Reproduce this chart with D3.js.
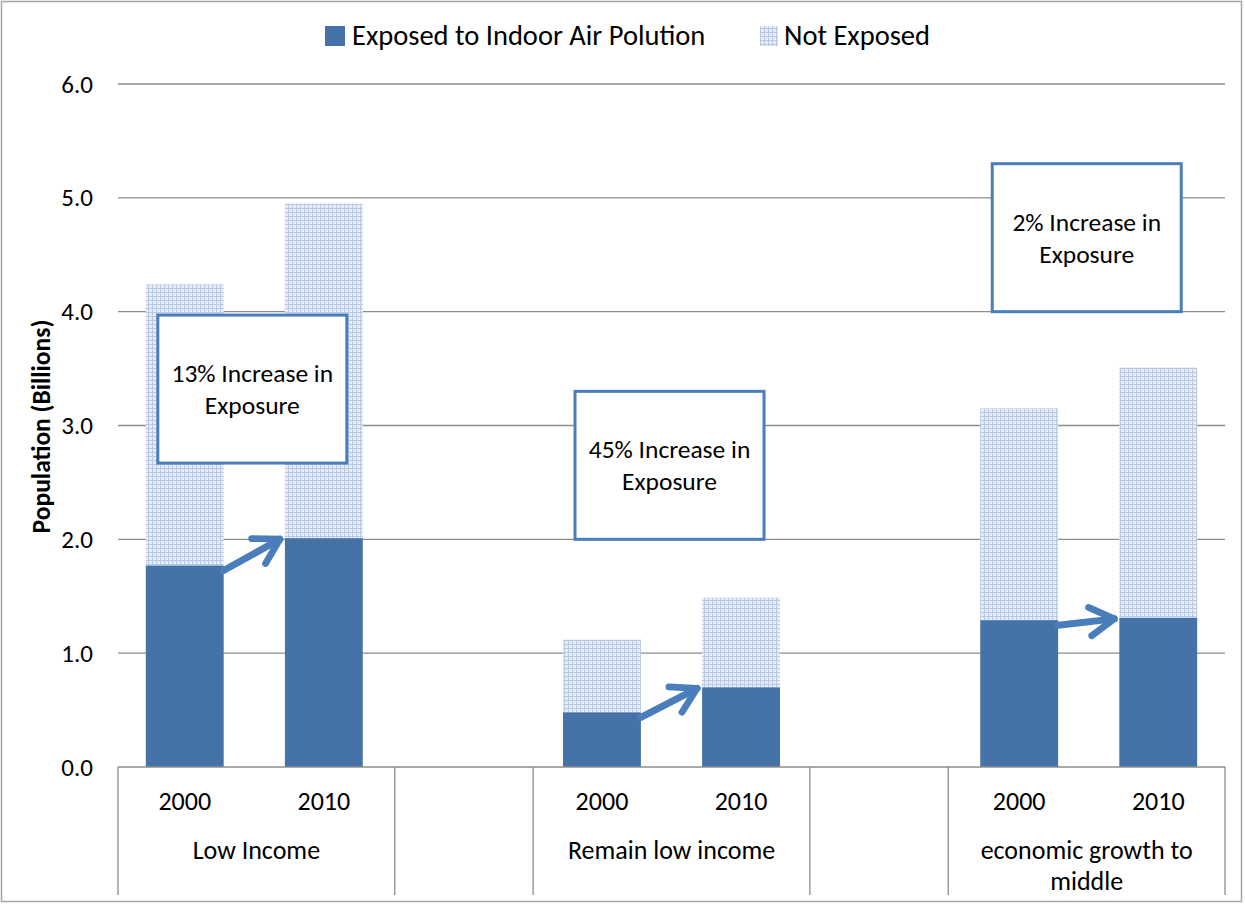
<!DOCTYPE html>
<html><head><meta charset="utf-8">
<script src="https://cdn.jsdelivr.net/npm/d3@7"></script>
<style>body{margin:0;background:#fff}svg{display:block}</style>
</head><body>
<svg id="c" width="1245" height="905"></svg>
<script>
const categories = ["LI2000","LI2010","gap1","RL2000","RL2010","gap2","EG2000","EG2010"];
const yearLabels = ["2000","2010","","2000","2010","","2000","2010"];
const groups = [
  {name:["Low Income"], from:0, to:1},
  {name:[""], from:2, to:2},
  {name:["Remain low income"], from:3, to:4},
  {name:[""], from:5, to:5},
  {name:["economic growth to","middle"], from:6, to:7}
];
const exposed =    [1.77, 2.01, null, 0.48, 0.70, null, 1.29, 1.31];
const notExposed = [2.47, 2.94, null, 0.64, 0.79, null, 1.86, 2.20];
const yTicks = [0,1,2,3,4,5,6];
const notes = [
  {text:["13% Increase in","Exposure"], cat:0, top:3.97, bottom:2.67},
  {text:["45% Increase in","Exposure"], cat:3, top:3.30, bottom:2.00},
  {text:["2% Increase in","Exposure"], cat:6, top:5.30, bottom:4.00}
];
const arrows = [[0,1],[3,4],[6,7]];

const svg = d3.select("#c");
const font = "Carlito, Calibri, 'Liberation Sans', sans-serif";
const L = 118, R = 1225, T = 84, B = 767;
const x = d3.scaleBand().domain(categories).range([L, R]).paddingInner(0.44).paddingOuter(0.2);
const step = (R - L) / categories.length;
const y = d3.scaleLinear().domain([0, 6]).range([B, T]);

// pattern
const defs = svg.append("defs");
const pat = defs.append("pattern").attr("id","grid").attr("patternUnits","userSpaceOnUse").attr("width",4).attr("height",4);
pat.append("rect").attr("width",4).attr("height",4).attr("fill","#e6ecf6");
pat.append("rect").attr("x",0).attr("y",0).attr("width",4).attr("height",1).attr("fill","#b9c9e3");
pat.append("rect").attr("x",0).attr("y",0).attr("width",1).attr("height",4).attr("fill","#b9c9e3");

// outer frame
svg.append("rect").attr("x",1.5).attr("y",1.5).attr("width",1240).attr("height",900).attr("fill","none").attr("stroke","#a6a6a6").attr("stroke-width",1.5);

// gridlines
svg.append("g").selectAll("line").data(yTicks.filter(d=>d>0)).join("line")
  .attr("x1",L).attr("x2",R).attr("y1",d=>y(d)).attr("y2",d=>y(d))
  .attr("stroke","#8c8c8c").attr("stroke-width",1.3);

// y axis
const yAxis = d3.axisLeft(y).tickValues(yTicks).tickFormat(d3.format(".1f")).tickSize(0).tickPadding(25);
const ya = svg.append("g").attr("transform",`translate(${L},0)`).call(yAxis);
ya.select(".domain").remove();
ya.selectAll("text").attr("font-family",font).attr("font-size",25).attr("fill","#000");

svg.append("text").attr("transform",`translate(50,${(T+B)/2+1}) rotate(-90)`)
  .attr("text-anchor","middle").attr("font-family",font).attr("font-size",25.5).attr("font-weight","bold")
  .text("Population (Billions)");

// bars
const data = categories.map((c,i)=>({c, e:exposed[i], n:notExposed[i]})).filter(d=>d.e!==null);
svg.append("g").selectAll("rect").data(data).join("rect")
  .attr("x",d=>x(d.c)).attr("width",x.bandwidth())
  .attr("y",d=>y(d.e+d.n)).attr("height",d=>y(d.e)-y(d.e+d.n)).attr("fill","url(#grid)");
svg.append("g").selectAll("rect").data(data).join("rect")
  .attr("x",d=>x(d.c)).attr("width",x.bandwidth())
  .attr("y",d=>y(d.e)).attr("height",d=>y(0)-y(d.e)).attr("fill","#4573a8");

// x axis line and category separators
svg.append("line").attr("x1",L).attr("x2",R).attr("y1",B).attr("y2",B).attr("stroke","#8c8c8c").attr("stroke-width",1.3);
const bounds = [0,2,3,5,6,8];
svg.append("g").selectAll("line").data(bounds).join("line")
  .attr("x1",d=>L+d*step).attr("x2",d=>L+d*step).attr("y1",B).attr("y2",895)
  .attr("stroke","#8c8c8c").attr("stroke-width",1.3);

// year labels
svg.append("g").selectAll("text").data(categories).join("text")
  .attr("x",d=>x(d)+x.bandwidth()/2).attr("y",810).attr("text-anchor","middle")
  .attr("font-family",font).attr("font-size",26).text((d,i)=>yearLabels[i]);

// group labels
groups.forEach(g=>{
  const cx = L + (g.from + g.to + 1)/2*step;
  g.name.forEach((t,j)=>{
    svg.append("text").attr("x",cx).attr("y",859+j*31).attr("text-anchor","middle")
      .attr("font-family",font).attr("font-size",26).text(t);
  });
});

// arrows
const ac = "#4a7ebb";
const mk = defs.append("marker").attr("id","ah").attr("viewBox","0 0 10 10").attr("refX",8).attr("refY",5)
  .attr("markerWidth",6).attr("markerHeight",6).attr("orient","auto").attr("markerUnits","strokeWidth");
mk.append("path").attr("d","M2.2,1.6 L8,5 L2.2,8.4").attr("fill","none").attr("stroke",ac).attr("stroke-width",1.6).attr("stroke-linecap","round").attr("stroke-linejoin","round");
arrows.forEach(([a,b])=>{
  const x1 = x(categories[a])+x.bandwidth(), y1 = y(exposed[a]) + 5;
  const x2 = x(categories[b]) - 5, y2 = y(exposed[b]) + 1;
  svg.append("line").attr("x1",x1).attr("y1",y1).attr("x2",x2).attr("y2",y2)
    .attr("stroke",ac).attr("stroke-width",7).attr("stroke-linecap","round").attr("marker-end","url(#ah)");
});

// note boxes
notes.forEach(n=>{
  const x0 = x(categories[n.cat]) + 12;
  const w = 189;
  svg.append("rect").attr("x",x0).attr("y",y(n.top)).attr("width",w).attr("height",y(n.bottom)-y(n.top))
    .attr("fill","#fff").attr("stroke",ac).attr("stroke-width",3);
  const cy = (y(n.top)+y(n.bottom))/2;
  n.text.forEach((t,j)=>{
    svg.append("text").attr("x",x0+w/2).attr("y",cy - 7 + j*32).attr("text-anchor","middle")
      .attr("font-family",font).attr("font-size",25.5).text(t);
  });
});

// legend
const lg = svg.append("g");
lg.append("rect").attr("x",325).attr("y",26).attr("width",20).attr("height",20).attr("fill","#4573a8");
lg.append("text").attr("x",352).attr("y",45).attr("font-family",font).attr("font-size",28.5).text("Exposed to Indoor Air Polution");
lg.append("rect").attr("x",760).attr("y",26).attr("width",18).attr("height",20).attr("fill","url(#grid)");
lg.append("text").attr("x",784).attr("y",45).attr("font-family",font).attr("font-size",28.5).text("Not Exposed");
</script>
</body></html>
